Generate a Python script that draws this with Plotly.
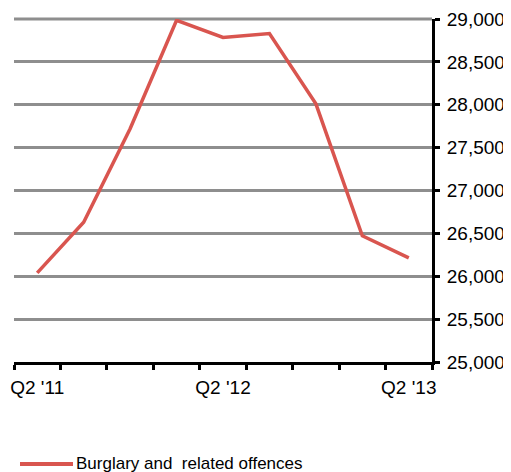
import plotly.graph_objects as go

quarters = ["Q2 '11", "Q3 '11", "Q4 '11", "Q1 '12", "Q2 '12", "Q3 '12", "Q4 '12", "Q1 '13", "Q2 '13"]
burglary = [26040, 26630, 27720, 28985, 28785, 28830, 28010, 26472, 26215]
label_quarters = ["Q2 '11", "Q2 '12", "Q2 '13"]
series_name = "Burglary and  related offences"
y_min, y_max, y_step = 25000, 29000, 500

LINE_COLOR = "#D9554F"
GRID_COLOR = "#8E8E8E"
xs = list(range(1, len(quarters) + 1))
label_pos = [quarters.index(q) + 1 for q in label_quarters]

# page body has an 8px margin, so the figure is drawn 8px in from the top-left
PLOT_W, PLOT_H = 418, 343

fig = go.Figure()
fig.add_trace(go.Scatter(
    x=xs, y=burglary, mode="lines", name=series_name,
    line=dict(color=LINE_COLOR, width=3.5),
    hovertext=quarters, showlegend=False,
))

# top gridline (plotly drops gridlines lying on the plot edge); paper y of y_max
top_paper = (y_max - y_min) / (y_max - y_min)
fig.add_shape(type="line", xref="paper", yref="paper", x0=0, x1=1,
              y0=top_paper, y1=top_paper,
              line=dict(color=GRID_COLOR, width=3), layer="below")

# legend drawn manually (longer line sample as in the reference)
fig.add_shape(type="line", xref="paper", yref="paper",
              x0=(20 - 14) / PLOT_W, x1=(73 - 14) / PLOT_W,
              y0=(362 - 464) / PLOT_H, y1=(362 - 464) / PLOT_H,
              line=dict(color=LINE_COLOR, width=4))
fig.add_annotation(text=series_name.replace("  ", "&nbsp; "), xref="paper", yref="paper",
                   x=(74 - 14) / PLOT_W, y=(362 - 463.5) / PLOT_H,
                   xanchor="left", yanchor="middle", showarrow=False,
                   font=dict(size=17, color="black"))

fig.update_layout(
    width=503, height=464,
    margin=dict(l=6, r=79, t=11, b=110, pad=0),
    paper_bgcolor="white", plot_bgcolor="white",
    font=dict(family="Liberation Sans, Arial, sans-serif", size=19, color="black"),
    showlegend=False,
    xaxis=dict(
        range=[0.5, len(quarters) + 0.5],
        tickmode="array", tickvals=label_pos, ticktext=label_quarters,
        ticks="", ticklabelstandoff=6, showgrid=False, zeroline=False,
        showline=True, linecolor="black", linewidth=3, automargin=False,
        tickfont=dict(size=19),
        minor=dict(tickmode="linear", tick0=0.5, dtick=1, ticks="outside",
                   ticklen=5, tickwidth=3, tickcolor="black", showgrid=False),
    ),
    yaxis=dict(
        side="right", range=[y_min, y_max],
        tickvals=list(range(y_min, y_max + 1, y_step)),
        tickformat=",", automargin=False,
        ticks="outside", ticklen=5, tickwidth=3, tickcolor="black", ticklabelstandoff=3,
        showline=True, linecolor="black", linewidth=3,
        showgrid=True, gridcolor=GRID_COLOR, gridwidth=3, zeroline=False,
        tickfont=dict(size=19),
    ),
)

fig.write_html("out.html")
